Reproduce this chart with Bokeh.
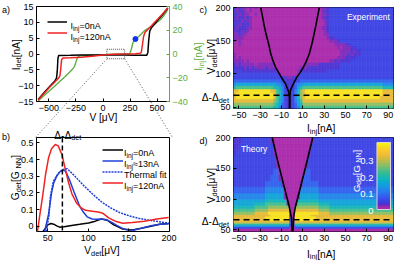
import numpy as np
from math import pi, cos, sin
from bokeh.plotting import figure
from bokeh.layouts import row, column
from bokeh.models import (Range1d, LinearAxis, FixedTicker, Label, Span, GridBox,
                          LinearColorMapper, Legend, LegendItem, ColumnDataSource)
from bokeh.core.properties import value
from bokeh.transform import transform
from bokeh.embed import file_html
from bokeh.resources import INLINE

# ======================= DATA =======================
# ---- panel a : I-V curves ----
a_V_black = [-600, -550, -500, -470, -445, -430, -423, -417, -410, -300, -200, -100, 0,
             100, 200, 300, 405, 415, 422, 432, 448, 500, 550, 600]
a_I_black = [-14.4, -12.4, -10.5, -9.4, -8.5, -7.6, -5.5, -1.5, -0.45, -0.4, -0.35, -0.3, -0.3,
             -0.3, -0.35, -0.4, -0.4, 0.5, 4.0, 7.2, 8.3, 10.4, 12.4, 14.5]
a_V_red = [-600, -550, -500, -450, -410, -398, -390, -383, -370, -300, -200, -100, 0,
           100, 200, 300, 345, 355, 365, 375, 388, 420, 450, 500, 550, 600]
a_I_red = [-14.5, -12.6, -10.7, -9.0, -7.6, -6.8, -4.5, -1.8, -1.3, -1.2, -1.0, -0.7, -0.3,
           -0.1, 0.0, 0.1, 0.2, 0.6, 3.0, 5.5, 6.8, 8.0, 9.0, 10.8, 12.6, 14.5]
a_V_green = [-600, -550, -500, -450, -400, -350, -300, -270, -258, -248, -238, -228, -210,
             -150, -50, 50, 150, 220, 245, 252, 258, 265, 272, 280, 288, 300, 330, 384, 458,
             532, 560, 600]
a_I_green = [-39.5, -35.3, -31.3, -27.3, -23.2, -19.0, -14.6, -11.5, -9.0, -6.0, -3.5, -2.2, -1.6,
             -1.2, -0.7, -0.3, 0.0, 0.1, 0.3, 1.2, 3.0, 5.2, 7.8, 10.2, 11.8, 12.6, 14.8, 19.6, 23.6,
             29.0, 32.0, 37.5]
a_dot_V = [300]
a_dot_I = [12.6]
a_zoom_V = [36, 200]
a_zoom_I = [-1.5, 1.5]
a_xticks = [-500, -250, 0, 250, 500]
a_yticks = [-15, -10, -5, 0, 5, 10, 15]
a_rticks = [-40, -20, 0, 20, 40]

# ---- panel b : G_det vs V_det ----
b_V_black = [44.0, 47.2, 50.0, 53.7, 57.3, 61.0, 64.7, 70.2, 77.5, 89.4, 100.5, 108.7, 116.1, 123.4,
             131.6, 142.7, 154.6, 165.6, 177.5, 188.5, 199.5]
b_G_black = [-0.032, -0.012, 0.008, 0.016, 0.012, 0.002, -0.006, -0.004, 0.003, 0.011, 0.019, 0.030,
             0.043, 0.036, 0.008, -0.017, -0.023, -0.013, 0.0, 0.011, 0.016]
b_V_blue = [46.0, 50.9, 54.6, 57.3, 61.0, 64.7, 68.3, 72.0, 77.5, 82.1, 85.8, 89.4, 93.1, 98.6, 105.0,
            110.5, 116.1, 121.6, 126.1, 130.7, 135.3, 141.7, 147.2, 154.6, 165.6, 177.5, 188.5, 199.5]
b_G_blue = [-0.032, 0.07, 0.2, 0.26, 0.3, 0.325, 0.337, 0.33, 0.27, 0.21, 0.165, 0.12, 0.09, 0.056,
            0.043, 0.042, 0.043, 0.04, 0.03, 0.018, 0.005, -0.012, -0.022, -0.026, -0.013, 0.002, 0.011, 0.015]
b_V_fit = [48.0, 51.4, 53.2, 56.9, 62.8, 68.3, 73.8, 82.1, 93.1, 105.0, 116.1, 128.0, 139.0, 150.9,
           161.9, 177.5, 199.5]
b_G_fit = [-0.032, 0.06, 0.18, 0.27, 0.316, 0.34, 0.345, 0.307, 0.25, 0.194, 0.147, 0.109, 0.081,
           0.062, 0.047, 0.034, 0.018]
b_V_red = [37.2, 39.9, 43.6, 47.2, 50.9, 54.6, 59.2, 62.8, 67.4, 72.0, 75.7, 79.8, 85.8, 91.3, 96.8,
           105.0, 112.4, 117.9, 125.2, 133.5, 142.7, 154.6, 169.3, 184.9, 199.5]
b_G_red = [-0.032, 0.06, 0.18, 0.31, 0.41, 0.465, 0.49, 0.482, 0.43, 0.335, 0.26, 0.194, 0.137, 0.109,
           0.095, 0.09, 0.085, 0.078, 0.05, 0.03, 0.018, 0.022, 0.030, 0.043, 0.052]
b_gap = 68
b_xticks = [50, 100, 150, 200]
b_yticks = [0, 0.1, 0.2, 0.3, 0.4, 0.5]

# ---- panels c, d : maps, 2.5 nA columns from -55 to 95 nA ----
# level code -> G_det [G_NN]
LEVEL = {'m': -0.005, 'p': 0.014, '0': 0.028, '1': 0.045, '2': 0.075, '3': 0.11, '4': 0.145,
         '5': 0.18, '6': 0.22, '7': 0.26, '8': 0.31, '9': 0.37}
# experiment rows, top (200 uV) to bottom (50 uV), 5 uV steps
c_rows = [
    "0p0ppmpmpm" + "m" * 23 + "pp0" + "1" * 24,
    "0p00pmpmmm" + "m" * 23 + "p00" + "1" * 24,
    "00p0ppmmpm" + "m" * 23 + "pp0" + "1" * 24,
    "0p00p0pmmm" + "m" * 23 + "p00" + "1" * 24,
    "000p0ppmmm" + "m" * 24 + "p0" + "1" * 24,
    "00p000pmmm" + "m" * 24 + "p0" + "1" * 24,
    "0p000ppmmm" + "m" * 23 + "pp0" + "1" * 24,
    "p00p0pmmmm" + "m" * 24 + "p0" + "1" * 24,
    "pp0ppmmmmm" + "m" * 24 + "pp" + "1" * 24,
    "ppppmmmmmm" + "m" * 25 + "p00" + "1" * 22,
    "pmpmmmmmmm" + "m" * 26 + "ppp0" + "1" * 20,
    "mmpmmmmmmm" + "m" * 28 + "pppp00" + "1" * 16,
    "m" * 10 + "m" * 29 + "pmppp00" + "1" * 14,
    "m" * 10 + "m" * 30 + "pppp0p00" + "1" * 12,
    "pmmmmmmmmm" + "m" * 30 + "ppp0p000" + "1" * 12,
    "pmpmmmmmmm" + "m" * 28 + "mppp0000" + "1" * 14,
    "ppppmpmmmm" + "m" * 26 + "pp0p0000" + "1" * 16,
    "0p0pppppmp" + "ppppp" + "m" * 12 + "ppppp000" + "0" * 5 + "1" * 20,
    "0000p0p0pp" + "pp0pp" + "pmmmmmmmmmp" + "pp00000" + "0" * 7 + "1" * 20,
    "1010000000" + "00000" + "0pmmmmmmmp" + "0" * 10 + "1" * 25,
    "1" * 17 + "pmmmmmmp" + "1" * 35,
    "1" * 18 + "00pp00" + "1" * 36,
    "2" * 16 + "2211000112" + "2" * 34,
    "3" + "4" * 15 + "3321001233" + "4" * 30 + "3" * 4,
    "5" + "6" * 14 + "5" + "5431001245" + "6" * 30 + "5" * 4,
    "88" + "9" * 12 + "88" + "6531001357" + "8" + "9" * 29 + "8" * 4,
    "8" + "9" * 14 + "8" + "6531001357" + "8" + "9" * 29 + "8" * 4,
    "8" + "9" * 14 + "8" + "6531001357" + "8" + "9" * 28 + "8" * 5,
    "8" * 15 + "7" + "6431001346" + "8" * 34,
    "7" * 15 + "6" + "5421001245" + "7" * 34,
    "6" * 15 + "5" + "5321001235" + "6" * 34,
]
# theory rows, top to bottom, on the V edges below
d_V_edges = [47.5, 50, 52.5, 55, 57.5, 60, 62.5, 65, 67.5, 70, 72.5, 75, 80, 85, 90, 95, 100,
             110, 120, 130, 140, 150, 160, 170, 180, 190, 200]
d_rows = [
    "000" + "1" * 11 + "p" + "m" * 14 + "p" + "1" * 30,
    "00" + "1" * 13 + "m" * 14 + "1" * 31,
    "0" + "1" * 14 + "p" + "m" * 12 + "p" + "1" * 31,
    "1" * 16 + "m" * 12 + "1" * 32,
    "1" * 16 + "p" + "m" * 10 + "p" + "1" * 32,
    "1" * 15 + "22" + "m" * 10 + "22" + "1" * 31,
    "1" * 14 + "222" + "p" + "m" * 8 + "222" + "1" * 31,
    "1" * 12 + "2" * 6 + "p" + "m" * 6 + "p" + "2" * 6 + "1" * 28,
    "2" * 12 + "3" * 7 + "m" * 6 + "3" * 7 + "2" * 28,
    "3" * 12 + "4" * 7 + "p" + "m" * 4 + "p" + "4" * 7 + "3" * 28,
    "4" * 12 + "5" * 8 + "m" * 4 + "5" * 8 + "4" * 28,
    "4" * 8 + "5" * 4 + "6" * 8 + "p" + "mm" + "p" + "6" * 8 + "5" * 4 + "4" * 24,
    "5" * 8 + "6" * 5 + "7" * 8 + "mm" + "7" * 9 + "6" * 4 + "5" * 24,
    "6" * 8 + "7" * 5 + "8" * 8 + "mm" + "8" * 9 + "7" * 4 + "6" * 24,
    "7" * 8 + "8" * 5 + "9" * 8 + "mm" + "9" * 9 + "8" * 4 + "7" * 24,
    "8" * 14 + "9" * 7 + "pm" + "9" * 6 + "8" * 31,
    "8" * 12 + "9" * 9 + "pm" + "9" * 8 + "8" * 29,
    "8" * 12 + "9" * 9 + "1p" + "9" * 8 + "8" * 29,
    "8" * 12 + "9" * 9 + "1p" + "9" * 8 + "8" * 29,
    "8" * 21 + "2p" + "8" * 37,
    "7" * 21 + "2p" + "7" * 37,
    "5" * 21 + "1p" + "5" * 37,
    "3" * 21 + "pp" + "3" * 37,
    "1" * 21 + "mm" + "1" * 37,
    "m" * 60,
    "m" * 60,
]
c_curve_L_I = [-2.5, -2.6, -3.2, -4.5, -6.1, -9.0, -12.0, -15.5, -18.0, -20.0, -22.0, -24.5, -26.5, -28.0, -29.5]
c_curve_L_V = [48, 65, 73, 78, 85, 92, 100, 110, 120, 130, 145, 160, 175, 188, 200]
c_curve_R_I = [-2.3, -2.2, -1.7, -0.2, 2.0, 4.3, 7.5, 10.3, 13.0, 16.0, 18.5, 20.5, 22.5, 24.0, 25.5]
c_curve_R_V = [48, 65, 75, 80.5, 88, 95, 102, 109.6, 118, 130, 145, 160, 175, 188, 200]
d_curve_L_I = [0.0, -0.7, -3.1, -7.6, -13.6, -18.7]
d_curve_L_V = [47.5, 70, 90.7, 121, 162, 200]
d_curve_R_I = [0.7, 1.3, 2.8, 7.3, 13.3, 19.3]
d_curve_R_V = [47.5, 70, 86, 116, 157, 200]
c_gap = 68
d_gap = 66.5
cd_xticks = [-50, -30, -10, 10, 30, 50, 70, 90]
cd_yticks = [50, 100, 150, 200]
cb_low, cb_high = -0.01, 0.39
cb_labels = [(0.3, "0.3"), (0.2, "0.2"), (0.1, "0.1"), (0.0, "0")]

# ======================= STYLE =======================
FONT = "Liberation Sans"
RED, BLUE, GREEN = "#f02323", "#2040d8", "#5cae3e"
SX, SY = 400 / 416, 260 / 276
TICK = "9px"
LAB = 10.2
GEOM = {
    "a": dict(ox=0, oy=0, w=197, h=122, bl=36, br=28, bt=6, bb=21),
    "b": dict(ox=0, oy=122, w=197, h=138, bl=35, br=25, bt=15, bb=29),
    "c": dict(ox=197, oy=0, w=203, h=130, bl=36, br=7, bt=7, bb=22),
    "d": dict(ox=197, oy=130, w=203, h=130, bl=36, br=5, bt=7, bb=29),
}
for g in GEOM.values():
    g["fw"] = g["w"] - g["bl"] - g["br"]
    g["fh"] = g["h"] - g["bt"] - g["bb"]
    g["fx"] = g["ox"] + g["bl"]
    g["fy"] = g["oy"] + g["bt"]
a_xrange, a_yrange, a_rrange = (-615, 615), (-15, 15), (-40, 40)
b_xrange, b_yrange = (36, 200.5), (-0.032, 0.532)
cd_xrange, c_yrange, d_yrange = (-55, 95), (48, 200), (47.5, 200)

# palette (value, rgb)
ANCH = [(-0.010, (176, 48, 176)), (0.008, (166, 44, 170)), (0.018, (104, 48, 204)),
        (0.030, (74, 58, 216)), (0.045, (64, 72, 230)), (0.070, (56, 96, 240)),
        (0.100, (44, 128, 240)), (0.130, (28, 156, 228)), (0.160, (16, 176, 208)),
        (0.190, (32, 188, 176)), (0.220, (72, 192, 144)), (0.250, (128, 192, 112)),
        (0.280, (184, 192, 80)), (0.310, (232, 188, 60)), (0.340, (252, 200, 52)),
        (0.370, (248, 226, 36)), (0.390, (248, 246, 22))]
_v = np.linspace(cb_low, cb_high, 256)
_xs = [a for a, _ in ANCH]
PAL = []
for v in _v:
    r, g_, b_ = (np.interp(v, _xs, [c[k] for _, c in ANCH]) for k in range(3))
    PAL.append("#%02x%02x%02x" % (int(r), int(g_), int(b_)))
mapper = LinearColorMapper(palette=PAL, low=cb_low, high=cb_high, low_color=PAL[0], high_color=PAL[-1])

W = {ch: 556 for ch in "0123456789abdeghnopqu"}
W.update({" ": 278, "[": 278, "]": 278, "(": 333, ")": 333, "-": 333, "=": 584, "≈": 584,
          ".": 278, "c": 500, "f": 278, "i": 222, "j": 222, "k": 500, "l": 222, "m": 833,
          "r": 333, "s": 500, "t": 278, "v": 500, "w": 722, "x": 500, "y": 500, "z": 500,
          "A": 667, "E": 667, "G": 778, "I": 278, "N": 722, "T": 611, "V": 667, "μ": 576, "Δ": 668})


def tw(s, size):
    return sum(W.get(ch, 556) for ch in s) / 1000 * size


def style_axis(ax, color="black"):
    ax.major_label_text_font = FONT
    ax.major_label_text_font_size = TICK
    ax.major_label_text_color = color
    ax.major_tick_in = 3
    ax.major_tick_out = 0
    ax.major_tick_line_color = color
    ax.minor_tick_line_color = None
    ax.axis_line_color = None
    ax.major_label_standoff = 3


def make_fig(key, xr, yr):
    g = GEOM[key]
    p = figure(width=g["w"], height=g["h"], x_range=Range1d(*xr), y_range=Range1d(*yr),
               output_backend="svg", toolbar_location=None, tools="",
               min_border_left=g["bl"], min_border_right=g["br"],
               min_border_top=g["bt"], min_border_bottom=g["bb"])
    p.grid.visible = False
    p.outline_line_color = "black"
    p.outline_line_width = 1
    p.border_fill_color = "white"
    p.background_fill_color = "white"
    for ax in p.axis:
        style_axis(ax)
    return p


def legend(p, renderers, x, y, gw, rh):
    items = [LegendItem(label=value(" "), renderers=[r]) for r in renderers]
    p.add_layout(Legend(items=items, location=(x, y), glyph_width=gw, glyph_height=rh,
                        label_height=rh, label_width=0, label_standoff=0,
                        label_text_font_size="1px", padding=0, spacing=0, margin=0,
                        border_line_color=None, background_fill_alpha=0))


def heatmap(p, rows_top_first, v_edges, i_edges):
    L, R, B, T, G = [], [], [], [], []
    for r, s in enumerate(reversed(rows_top_first)):
        s = (s + s[-1] * 60)[:60]
        for j, ch in enumerate(s):
            L.append(i_edges[j]); R.append(i_edges[j + 1])
            B.append(v_edges[r]); T.append(v_edges[r + 1]); G.append(LEVEL[ch])
    src = ColumnDataSource(dict(left=L, right=R, bottom=B, top=T, g=G))
    p.quad(left="left", right="right", bottom="bottom", top="top", source=src,
           fill_color=transform("g", mapper), line_color=transform("g", mapper), line_width=0.6)


# transparent overlay covering the whole page, page coordinates (y down)
ov = figure(frame_width=400, frame_height=260, x_range=Range1d(0, 400), y_range=Range1d(260, 0),
            output_backend="svg", toolbar_location=None, tools="",
            min_border_left=0, min_border_right=0, min_border_top=0, min_border_bottom=0,
            x_axis_type=None, y_axis_type=None)
ov.outline_line_color = None
ov.background_fill_alpha = 0
ov.border_fill_alpha = 0
ov.grid.visible = False
ov.title.visible = False


def txt(px, py, parts, size, color="black", angle=0.0, anchor="center", sub=0.72):
    """multi-size text; (px, py) page coords of cap-centre line at anchor."""
    widths = [tw(t, size * sub if s else size) for t, s in parts]
    total = sum(widths)
    pos = {"center": -total / 2, "left": 0.0, "right": -total}[anchor]
    ca, sa = cos(angle), sin(angle)
    for (t, s), w in zip(parts, widths):
        fs = size * sub if s else size
        up = -0.36 * size + (-0.26 * size if s else 0.0)
        x = px + pos * ca - up * sa
        y = py - pos * sa - up * ca
        ov.add_layout(Label(x=x, y=y, text=t, angle=angle, text_font=FONT,
                            text_font_size="%.1fpx" % fs, text_color=color,
                            text_align="left", text_baseline="alphabetic"))
        pos += w


def rtxt(rx, ry, parts, size, **kw):
    txt(rx * SX, ry * SY, parts, size, **kw)


INJ = [("I", 0), ("inj", 1)]
DET = [("Δ-Δ", 0), ("det", 1)]
GDET = [("G", 0), ("det", 1), (" [G", 0), ("NN", 1), ("]", 0)]
VDET = [("V", 0), ("det", 1), (" [μV]", 0)]

# ======================= PANEL a =======================
ga = GEOM["a"]
pa = make_fig("a", a_xrange, a_yrange)
pa.xaxis.ticker = FixedTicker(ticks=a_xticks)
pa.yaxis.ticker = FixedTicker(ticks=a_yticks)
pa.extra_y_ranges = {"inj": Range1d(*a_rrange)}
axr = LinearAxis(y_range_name="inj", ticker=FixedTicker(ticks=a_rticks))
style_axis(axr, GREEN)
axr.axis_line_color = GREEN
pa.add_layout(axr, "right")
pa.line(a_V_green, a_I_green, y_range_name="inj", color=GREEN, line_width=1.4)
rb_a = pa.line(a_V_black, a_I_black, color="black", line_width=1.5)
rr_a = pa.line(a_V_red, a_I_red, color=RED, line_width=1.5)
pa.scatter(a_dot_V, a_dot_I, y_range_name="inj", size=5, color="#1030f0")
pa.quad(left=[a_zoom_V[0]], right=[a_zoom_V[1]], bottom=[a_zoom_I[0]], top=[a_zoom_I[1]],
        fill_color=None, line_color="#555555", line_dash="1 1", line_width=1)
leg_a_y = 23.3 * SY
legend(pa, [rb_a, rr_a], 49 * SX - ga["fx"], ga["fy"] + ga["fh"] - leg_a_y - 2 * 11 + 5.5, 20, 11)
txt(72.7 * SX, leg_a_y, INJ + [("=0nA", 0)], 9, anchor="left")
txt(72.7 * SX, leg_a_y + 11, INJ + [("=120nA", 0)], 9, anchor="left")
rtxt(1.5, 7.0, [("a)", 0)], 9, anchor="left")
rtxt(12.5, 56, [("I", 0), ("det", 1), (" [nA]", 0)], LAB, angle=pi / 2)
rtxt(202.5, 58, INJ + [(" [nA]", 0)], LAB, angle=pi / 2, color=GREEN)
rtxt(107, 120.5, [("V [μV]", 0)], LAB)

# ======================= PANEL b =======================
gb = GEOM["b"]
pb = make_fig("b", b_xrange, b_yrange)
pb.xaxis.ticker = FixedTicker(ticks=b_xticks)
pb.yaxis.ticker = FixedTicker(ticks=b_yticks)
pb.yaxis.major_label_overrides = {0: "0"}
pb.add_layout(Span(location=b_gap, dimension="height", line_color="black", line_dash="5 3", line_width=1.5))
rk = pb.line(b_V_black, b_G_black, color="black", line_width=1.5)
rbl = pb.line(b_V_blue, b_G_blue, color=BLUE, line_width=1.5)
rf = pb.line(b_V_fit, b_G_fit, color=BLUE, line_width=1.5, line_dash="2 1")
rr = pb.line(b_V_red, b_G_red, color=RED, line_width=1.5)
leg_b_y = 158.3 * SY
legend(pb, [rk, rbl, rf, rr], 105 * SX - gb["fx"], gb["fy"] + gb["fh"] - leg_b_y - 4 * 11 + 5.5, 21, 11)
for i, parts in enumerate([INJ + [("=0nA", 0)], INJ + [("≈13nA", 0)], [("Thermal fit", 0)],
                           INJ + [("=120nA", 0)]]):
    txt(128.5 * SX, leg_b_y + 11 * i, parts, 9, anchor="left")
rtxt(1.5, 141.5, [("b)", 0)], 9, anchor="left")
rtxt(70, 139, DET, LAB)
rtxt(12, 188, GDET, LAB, angle=pi / 2)
rtxt(107, 262, VDET, LAB)

# ======================= PANELS c, d =======================
i_edges = [cd_xrange[0] + 2.5 * k for k in range(61)]
c_V_edges = [47.5 + 5 * k for k in range(32)]


def map_panel(key, rows, v_edges, yr, gap, LI, LV, RI, RV):
    g = GEOM[key]
    p = make_fig(key, cd_xrange, yr)
    heatmap(p, rows, v_edges, i_edges)
    p.line(LI, LV, color="black", line_width=1.6)
    p.line(RI, RV, color="black", line_width=1.6)
    p.add_layout(Span(location=gap, dimension="width", line_color="black", line_dash="6 4", line_width=1.5))
    p.xaxis.ticker = FixedTicker(ticks=cd_xticks)
    p.yaxis.ticker = FixedTicker(ticks=cd_yticks + [gap])
    p.yaxis.major_label_overrides = {gap: " "}
    gy = g["fy"] + (yr[1] - gap) / (yr[1] - yr[0]) * g["fh"]
    txt(g["fx"] - 4.5, gy - 1.5, DET, LAB, anchor="right")
    return p


pc = map_panel("c", c_rows, c_V_edges, c_yrange, c_gap, c_curve_L_I, c_curve_L_V,
               c_curve_R_I, c_curve_R_V)
pd = map_panel("d", d_rows, d_V_edges, d_yrange, d_gap, d_curve_L_I, d_curve_L_V,
               d_curve_R_I, d_curve_R_V)
rtxt(405, 14.5, [("Experiment", 0)], 8.5, color="white", anchor="right")
rtxt(250, 154, [("Theory", 0)], 8.5, color="white", anchor="left")
rtxt(207, 7.0, [("c)", 0)], 9, anchor="left")
rtxt(207, 145.5, [("d)", 0)], 9, anchor="left")
for yoff in (0, 137):
    rtxt(216, 58 + yoff, VDET, LAB, angle=pi / 2)
rtxt(335, 132.5, INJ + [(" [nA]", 0)], LAB)
rtxt(335, 265.5, INJ + [(" [nA]", 0)], LAB)

# colour bar of the map palette inside panel d (drawn on the overlay, page coords)
gd = GEOM["d"]
CB_W, CB_H, CB_M = 13.5, 67, 5
cb_x1 = gd["fx"] + gd["fw"] - CB_M
cb_x0 = cb_x1 - CB_W
cb_y0 = gd["fy"] + CB_M
n_cb = len(PAL)
ov.quad(left=[cb_x0] * n_cb, right=[cb_x1] * n_cb,
        top=[cb_y0 + CB_H - (k + 1) * CB_H / n_cb for k in range(n_cb)],
        bottom=[cb_y0 + CB_H - k * CB_H / n_cb for k in range(n_cb)],
        fill_color=PAL, line_color=PAL, line_width=0.5)
ov.quad(left=[cb_x0], right=[cb_x1], top=[cb_y0], bottom=[cb_y0 + CB_H], fill_color=None,
        line_color="#d8d8d8", line_width=1)
for v, lab in cb_labels:
    py = cb_y0 + (cb_high - v) / (cb_high - cb_low) * CB_H
    txt(cb_x0 - 3.5, py, [(lab, 0)], 9.5, color="white", anchor="right")
rtxt(366.5, 181, GDET, 9.5, angle=pi / 2, color="white")

# ======================= zoom lines a -> b =======================
def a_page(V, I):
    return (ga["fx"] + (V - a_xrange[0]) / (a_xrange[1] - a_xrange[0]) * ga["fw"],
            ga["fy"] + (a_yrange[1] - I) / (a_yrange[1] - a_yrange[0]) * ga["fh"])


for V, ex in [(a_zoom_V[0], gb["fx"]), (a_zoom_V[1], gb["fx"] + gb["fw"])]:
    sx_, sy_ = a_page(V, a_zoom_I[0])
    ov.line([sx_, ex], [sy_, gb["fy"]], line_color="#555555", line_dash="1 2", line_width=1)

base = row(column(pa, pb), column(pc, pd))
page = GridBox(children=[(base, 0, 0), (ov, 0, 0)])
open("out.html", "w").write(file_html(page, INLINE))
